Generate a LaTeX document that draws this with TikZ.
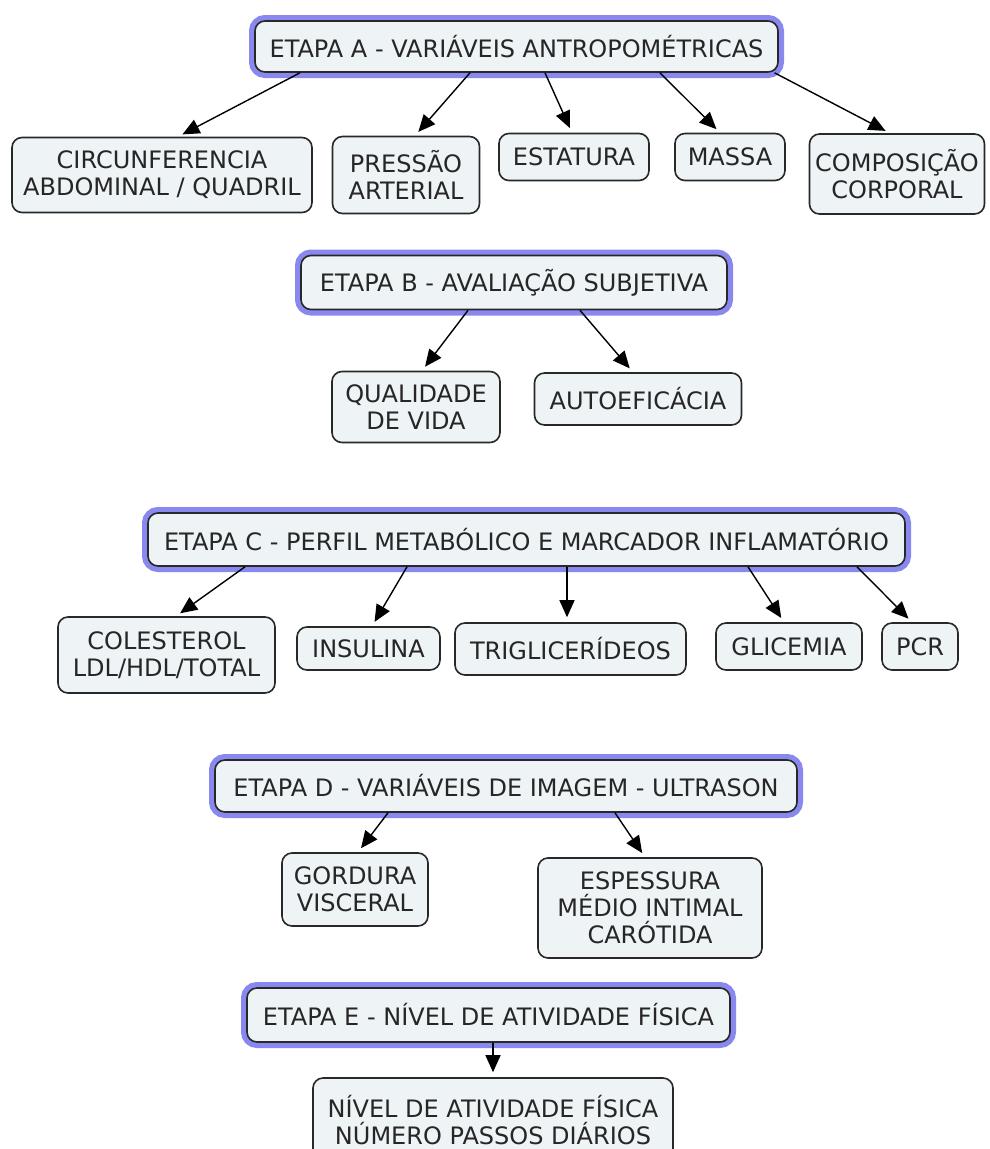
\documentclass[tikz,border=0pt]{standalone}
\usepackage{fontspec}
\setmainfont{DejaVu Sans}
\usetikzlibrary{arrows.meta}
\definecolor{boxfill}{RGB}{238,243,246}
\definecolor{halo}{RGB}{136,136,238}
\definecolor{boxline}{RGB}{40,40,40}
\tikzset{
    every node/.style={
        font=\fontsize{24}{27}\selectfont,
        text=black!85},
    item/.style={
        draw=boxline, line width=1.6pt,
        fill=boxfill,
        rounded corners=10pt,
        align=center, inner sep=0pt},
    etapa/.style={
        item,
        preaction={draw=halo, line width=12pt}},
    every edge/.style={
        draw,
        -{Triangle[length=17pt,width=15pt]},
        line width=1.4pt,
        shorten >=5pt}}

\begin{document}
\begin{tikzpicture}[x=1pt,y=-1pt]
    \useasboundingbox (0,0) rectangle (990,1149);

    \node[etapa,minimum width=523pt,minimum height=51pt] (etapaA) at (516.5,46.5) {ETAPA A - VARIÁVEIS ANTROPOMÉTRICAS};
    \node[item,minimum width=300pt,minimum height=75pt] (circ) at (162,175) {CIRCUNFERENCIA\\ABDOMINAL / QUADRIL};
    \node[item,minimum width=147pt,minimum height=77pt] (pressao) at (406,175) {PRESSÃO\\ARTERIAL};
    \node[item,minimum width=150pt,minimum height=47pt] (estatura) at (574,157) {ESTATURA};
    \node[item,minimum width=110pt,minimum height=47pt] (massa) at (730,157) {MASSA};
    \node[item,minimum width=175pt,minimum height=80pt] (comp) at (897,174) {COMPOSIÇÃO\\CORPORAL};

    \draw ([xshift=-216.5pt]etapaA.south) edge ([xshift=16pt]circ.north);
    \draw ([xshift=-46.5pt]etapaA.south) edge ([xshift=9pt]pressao.north);
    \draw ([xshift=28.5pt]etapaA.south) edge ([xshift=-2pt]estatura.north);
    \draw ([xshift=143.5pt]etapaA.south) edge ([xshift=-10pt]massa.north);
    \draw ([xshift=258pt]etapaA.south) edge ([xshift=-7pt]comp.north);

    \node[etapa,minimum width=426pt,minimum height=54pt] (etapaB) at (514,282.5) {ETAPA B - AVALIAÇÃO SUBJETIVA};
    \node[item,minimum width=168pt,minimum height=71pt] (qualidade) at (416,407) {QUALIDADE\\DE VIDA};
    \node[item,minimum width=207pt,minimum height=52pt] (auto) at (638,399) {AUTOEFICÁCIA};

    \draw ([xshift=-46pt]etapaB.south) edge ([xshift=6pt]qualidade.north);
    \draw ([xshift=66pt]etapaB.south) edge ([xshift=-5pt]auto.north);

    \node[etapa,minimum width=757pt,minimum height=53pt] (etapaC) at (526.5,539.5) {ETAPA C - PERFIL METABÓLICO E MARCADOR INFLAMATÓRIO};
    \node[item,minimum width=217pt,minimum height=76pt] (colesterol) at (166.5,655) {COLESTEROL\\LDL/HDL/TOTAL};
    \node[item,minimum width=143pt,minimum height=43pt] (insulina) at (368.5,648.5) {INSULINA};
    \node[item,minimum width=231pt,minimum height=52pt] (trig) at (570.5,649) {TRIGLICERÍDEOS};
    \node[item,minimum width=146pt,minimum height=47pt] (glicemia) at (789,646.5) {GLICEMIA};
    \node[item,minimum width=76pt,minimum height=47pt] (pcr) at (920,646.5) {PCR};

    \draw ([xshift=-281.5pt]etapaC.south) edge ([xshift=9.5pt]colesterol.north);
    \draw ([xshift=-119.5pt]etapaC.south) edge ([xshift=3.5pt]insulina.north);
    \draw ([xshift=40.5pt]etapaC.south) edge ([xshift=-3.5pt]trig.north);
    \draw ([xshift=221.5pt]etapaC.south) edge ([xshift=-5pt]glicemia.north);
    \draw ([xshift=330.5pt]etapaC.south) edge ([xshift=-8pt]pcr.north);

    \node[etapa,minimum width=582pt,minimum height=52pt] (etapaD) at (506,786) {ETAPA D - VARIÁVEIS DE IMAGEM - ULTRASON};
    \node[item,minimum width=146pt,minimum height=73pt] (gordura) at (355,889.5) {GORDURA\\VISCERAL};
    \node[item,minimum width=224pt,minimum height=100pt] (espessura) at (650,908) {ESPESSURA\\MÉDIO INTIMAL\\CARÓTIDA};

    \draw ([xshift=-118pt]etapaD.south) edge ([xshift=3pt]gordura.north);
    \draw ([xshift=109pt]etapaD.south) edge ([xshift=-5pt]espessura.north);

    \node[etapa,minimum width=483pt,minimum height=54pt] (etapaE) at (488.5,1015) {ETAPA E - NÍVEL DE ATIVIDADE FÍSICA};
    \node[item,minimum width=360pt,minimum height=84pt] (nivel) at (493,1120) {NÍVEL DE ATIVIDADE FÍSICA\\NÚMERO PASSOS DIÁRIOS};

    \draw ([xshift=4.5pt]etapaE.south) edge (nivel.north);
\end{tikzpicture}
\end{document}
